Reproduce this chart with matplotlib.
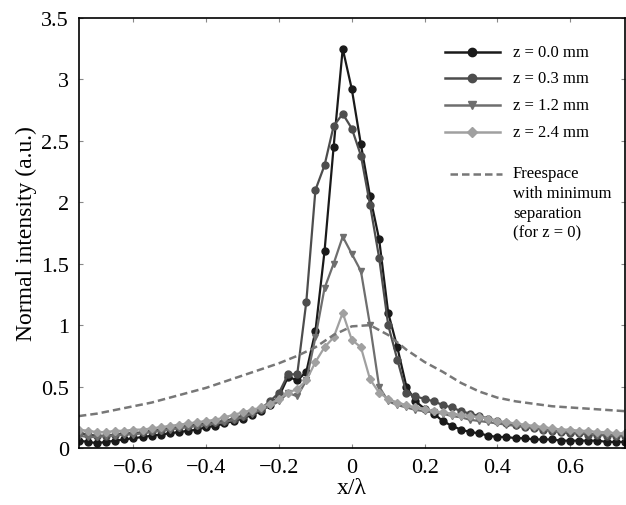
import numpy as np
import matplotlib.pyplot as plt
from matplotlib.lines import Line2D

plt.rcParams["font.family"] = ["Liberation Serif", "DejaVu Serif"]

# sample positions x/lambda, step 0.025 from -0.75 to 0.75
x = np.round(np.linspace(-0.75, 0.75, 61), 3)

z00 = [0.06, 0.05, 0.04, 0.05, 0.06, 0.07, 0.08, 0.09, 0.10, 0.11,
       0.12, 0.13, 0.14, 0.15, 0.17, 0.18, 0.20, 0.22, 0.24, 0.27,
       0.30, 0.35, 0.42, 0.58, 0.55, 0.62, 0.95, 1.60, 2.45, 3.25,
       2.92, 2.47, 2.05, 1.70, 1.10, 0.82, 0.50, 0.38, 0.32, 0.28,
       0.22, 0.18, 0.15, 0.13, 0.12, 0.10, 0.09, 0.09, 0.08, 0.08,
       0.07, 0.07, 0.07, 0.06, 0.06, 0.06, 0.06, 0.06, 0.05, 0.05,
       0.05]
z03 = [0.12, 0.11, 0.10, 0.10, 0.11, 0.12, 0.12, 0.13, 0.14, 0.15,
       0.16, 0.17, 0.18, 0.19, 0.20, 0.21, 0.22, 0.24, 0.26, 0.29,
       0.32, 0.38, 0.45, 0.60, 0.60, 1.19, 2.10, 2.30, 2.62, 2.72,
       2.60, 2.38, 1.98, 1.55, 1.00, 0.72, 0.45, 0.42, 0.40, 0.38,
       0.35, 0.33, 0.30, 0.28, 0.26, 0.24, 0.22, 0.20, 0.19, 0.17,
       0.16, 0.15, 0.14, 0.13, 0.12, 0.12, 0.11, 0.11, 0.10, 0.10,
       0.10]
z12 = [0.10, 0.09, 0.09, 0.10, 0.10, 0.11, 0.11, 0.12, 0.13, 0.14,
       0.15, 0.16, 0.17, 0.18, 0.19, 0.20, 0.21, 0.23, 0.25, 0.28,
       0.31, 0.34, 0.38, 0.45, 0.42, 0.55, 0.90, 1.30, 1.50, 1.72,
       1.58, 1.44, 1.00, 0.50, 0.38, 0.35, 0.33, 0.31, 0.30, 0.29,
       0.28, 0.26, 0.25, 0.23, 0.22, 0.21, 0.20, 0.19, 0.18, 0.17,
       0.16, 0.15, 0.14, 0.13, 0.13, 0.12, 0.12, 0.11, 0.11, 0.10,
       0.10]
z24 = [0.15, 0.14, 0.13, 0.13, 0.14, 0.14, 0.15, 0.15, 0.16, 0.17,
       0.18, 0.19, 0.20, 0.21, 0.22, 0.23, 0.25, 0.27, 0.29, 0.31,
       0.33, 0.36, 0.40, 0.45, 0.48, 0.55, 0.70, 0.82, 0.90, 1.10,
       0.88, 0.82, 0.56, 0.45, 0.40, 0.37, 0.35, 0.33, 0.32, 0.30,
       0.29, 0.28, 0.27, 0.26, 0.25, 0.24, 0.22, 0.21, 0.20, 0.19,
       0.18, 0.17, 0.16, 0.15, 0.15, 0.14, 0.14, 0.13, 0.13, 0.12,
       0.12]

x_free = np.round(np.linspace(-0.75, 0.75, 31), 3)
free = [0.26, 0.28, 0.31, 0.34, 0.37, 0.41, 0.45, 0.49, 0.54, 0.59,
        0.64, 0.69, 0.75, 0.82, 0.92, 0.99, 1.00, 0.92, 0.80, 0.70,
        0.62, 0.53, 0.46, 0.41, 0.38, 0.36, 0.34, 0.33, 0.32, 0.31,
        0.30]

labels = ["z = 0.0 mm", "z = 0.3 mm", "z = 1.2 mm", "z = 2.4 mm"]
free_label = "Freespace\nwith minimum\nseparation\n(for z = 0)"
series = [z00, z03, z12, z24]
colors = ["#1a1a1a", "#4d4d4d", "#6e6e6e", "#a0a0a0"]
markers = ["o", "o", "v", "D"]
msizes = [5, 5, 5, 4]

fig = plt.figure(figsize=(6.26, 5.06), dpi=100)
ax = fig.add_axes([0.126, 0.1126, 0.872, 0.85])

for ys, c, m, ms in zip(series, colors, markers, msizes):
    ax.plot(x, ys, color=c, lw=1.6, marker=m, ms=ms)
free_style = dict(color="#777777", lw=1.8, ls=(0, (3, 1.6)))
ax.plot(x_free, free, **free_style)

# hand-placed legend (axes fraction), handle sits on first text line
rows = [0.921, 0.860, 0.798, 0.735]
for yr, lab, c, m, ms in zip(rows, labels, colors, markers, msizes):
    ax.add_line(Line2D([0.670, 0.771], [yr, yr], transform=ax.transAxes,
                       color=c, lw=1.8))
    ax.add_line(Line2D([0.7205], [yr], transform=ax.transAxes, color=c,
                       marker=m, ms=ms + 1))
    ax.text(0.795, yr, lab, transform=ax.transAxes, fontsize=12,
            va="center", ha="left")
ax.add_line(Line2D([0.680, 0.775], [0.637, 0.637], transform=ax.transAxes,
                   **free_style))
ax.text(0.795, 0.657, free_label, transform=ax.transAxes, fontsize=12,
        va="top", ha="left", linespacing=1.3)

ax.set_xlim(-0.75, 0.75)
ax.set_ylim(0, 3.5)
ax.set_xticks([-0.6, -0.4, -0.2, 0, 0.2, 0.4, 0.6])
ax.set_xticklabels(["\u22120.6", "\u22120.4", "\u22120.2", "0", "0.2", "0.4", "0.6"])
ax.set_yticks([0, 0.5, 1, 1.5, 2, 2.5, 3, 3.5])
ax.set_yticklabels(["0", "0.5", "1", "1.5", "2", "2.5", "3", "3.5"])
ax.tick_params(direction="in", top=True, right=True, labelsize=16,
               length=3, width=0.8, color="#888888", pad=7)
for sp in ax.spines.values():
    sp.set_linewidth(1.2)
ax.set_xlabel("x/\u03bb", fontsize=17, labelpad=0)
ax.set_ylabel("Normal intensity (a.u.)", fontsize=17, labelpad=3)

fig.savefig("out.png", dpi=100)
